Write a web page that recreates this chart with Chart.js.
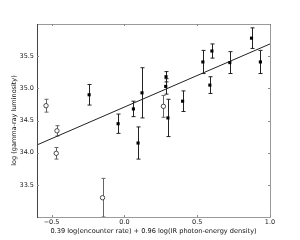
<!DOCTYPE html>
<html>
<head>
<meta charset="utf-8">
<script src="https://cdn.jsdelivr.net/npm/chart.js@4"></script>
<style>
  html, body { margin: 0; padding: 0; background: #fff; }
  #wrap { width: 300px; height: 240px; }
</style>
</head>
<body>
<div id="wrap"><canvas id="chart" width="300" height="240"></canvas></div>
<script>
// 實心點（有誤差棒）
const filledX = [-0.242, -0.043, 0.062, 0.094, 0.121, 0.286, 0.284, 0.299, 0.40, 0.539, 0.587, 0.601, 0.724, 0.873, 0.934];
const filledY = [34.90, 34.45, 34.68, 34.15, 34.93, 35.18, 35.03, 34.54, 34.80, 35.41, 35.05, 35.58, 35.40, 35.78, 35.41];
const filledErr = [0.16, 0.15, 0.12, 0.25, 0.39, 0.08, 0.12, 0.29, 0.16, 0.18, 0.13, 0.11, 0.17, 0.16, 0.18];

// 空心點
const openX = [-0.538, -0.463, -0.468, -0.15, 0.268];
const openY = [34.73, 34.34, 33.99, 33.30, 34.72];
const openErr = [0.10, 0.08, 0.09, 0.30, 0.17];

// 擬合直線
const fitX = [-0.6, 1.0];
const fitY = [34.12, 35.69];

// 刻度
const xTicks = [-0.5, 0.0, 0.5, 1.0];
const yTicks = [33.5, 34.0, 34.5, 35.0, 35.5];

const xTitle = '0.39 log(encounter rate) + 0.96 log(IR photon-energy density)';
const yTitle = 'log (gamma-ray luminosity)';

const FONT = 'DejaVu Sans';

function toPoints(xs, ys) {
    return xs.map((x, i) => ({ x: x, y: ys[i] }));
}

function fmt(v) {
    return v.toFixed(1).replace('-', '\u2212');
}

// 誤差棒
const errorBars = {
    id: 'errorBars',
    beforeDatasetsDraw(chart) {
        const ctx = chart.ctx;
        const xs = chart.scales.x, ys = chart.scales.y;
        chart.data.datasets.forEach(ds => {
            if (!ds.errors) return;
            ctx.save();
            ctx.strokeStyle = ds.errorColor;
            ctx.lineWidth = 1;
            ds.data.forEach((p, i) => {
                const px = Math.round(xs.getPixelForValue(p.x)) + 0.5;
                const top = ys.getPixelForValue(p.y + ds.errors[i]);
                const bot = ys.getPixelForValue(p.y - ds.errors[i]);
                ctx.beginPath();
                ctx.moveTo(px, top);
                ctx.lineTo(px, bot);
                ctx.moveTo(px - 2, top);
                ctx.lineTo(px + 2, top);
                ctx.moveTo(px - 2, bot);
                ctx.lineTo(px + 2, bot);
                ctx.stroke();
            });
            ctx.restore();
        });
    }
};

// 邊框與向內刻度
const frame = {
    id: 'frame',
    afterDraw(chart) {
        const ctx = chart.ctx;
        const a = chart.chartArea;
        const xs = chart.scales.x, ys = chart.scales.y;
        ctx.save();
        ctx.lineWidth = 1;
        // 上、右、下邊框（灰）
        ctx.strokeStyle = '#9a9a9a';
        ctx.beginPath();
        ctx.moveTo(a.left, a.top + 0.5);
        ctx.lineTo(a.right + 0.5, a.top + 0.5);
        ctx.lineTo(a.right + 0.5, a.bottom + 0.5);
        ctx.lineTo(a.left, a.bottom + 0.5);
        ctx.stroke();
        // 左邊框（深）
        ctx.strokeStyle = '#444';
        ctx.beginPath();
        ctx.moveTo(a.left + 0.5, a.top);
        ctx.lineTo(a.left + 0.5, a.bottom + 1);
        ctx.stroke();
        // 刻度
        ctx.strokeStyle = '#888';
        ctx.beginPath();
        xTicks.forEach(v => {
            const px = Math.round(xs.getPixelForValue(v)) + 0.5;
            ctx.moveTo(px, a.bottom);
            ctx.lineTo(px, a.bottom - 2);
            ctx.moveTo(px, a.top);
            ctx.lineTo(px, a.top + 2);
        });
        yTicks.forEach(v => {
            const py = Math.round(ys.getPixelForValue(v)) + 0.5;
            ctx.moveTo(a.left, py);
            ctx.lineTo(a.left + 2, py);
            ctx.moveTo(a.right, py);
            ctx.lineTo(a.right - 2, py);
        });
        ctx.stroke();
        ctx.restore();
    }
};

const chart = new Chart(document.getElementById('chart').getContext('2d'), {
    type: 'scatter',
    data: {
        datasets: [
            {
                type: 'line',
                data: toPoints(fitX, fitY),
                borderColor: '#222',
                borderWidth: 1,
                pointRadius: 0,
                fill: false,
                order: 3
            },
            {
                data: toPoints(openX, openY),
                errors: openErr,
                errorColor: '#666',
                pointStyle: 'circle',
                pointRadius: 2.2,
                backgroundColor: '#fff',
                borderColor: '#222',
                borderWidth: 0.8,
                order: 2
            },
            {
                data: toPoints(filledX, filledY),
                errors: filledErr,
                errorColor: '#222',
                pointStyle: 'rect',
                pointRadius: 2.2,
                backgroundColor: '#000',
                borderColor: '#000',
                borderWidth: 0,
                order: 1
            }
        ]
    },
    options: {
        responsive: false,
        animation: false,
        layout: { padding: { left: 0, right: 30, top: 24, bottom: 5 } },
        plugins: {
            legend: { display: false },
            tooltip: { enabled: false }
        },
        scales: {
            x: {
                type: 'linear',
                min: -0.6,
                max: 1.0,
                afterBuildTicks: s => { s.ticks = xTicks.map(v => ({ value: v })); },
                afterFit: s => { s.height = 18; },
                grid: { display: false, drawTicks: false },
                border: { display: false },
                ticks: {
                    padding: 1,
                    color: '#222',
                    font: { family: FONT, size: 6.5 },
                    callback: v => fmt(v)
                },
                title: {
                    display: true,
                    text: xTitle,
                    color: '#111',
                    font: { family: FONT, size: 6.6 },
                    padding: { top: 1, bottom: 0 }
                }
            },
            y: {
                type: 'linear',
                min: 33.0,
                max: 36.0,
                afterBuildTicks: s => { s.ticks = yTicks.map(v => ({ value: v })); },
                afterFit: s => { s.width = 37; },
                grid: { display: false, drawTicks: false },
                border: { display: false },
                ticks: {
                    padding: 3,
                    color: '#222',
                    font: { family: FONT, size: 6.5 },
                    callback: v => fmt(v)
                },
                title: {
                    display: true,
                    text: yTitle,
                    color: '#111',
                    font: { family: FONT, size: 6.5 },
                    padding: { top: 10, bottom: 0 }
                }
            }
        }
    },
    plugins: [errorBars, frame]
});
</script>
</body>
</html>
